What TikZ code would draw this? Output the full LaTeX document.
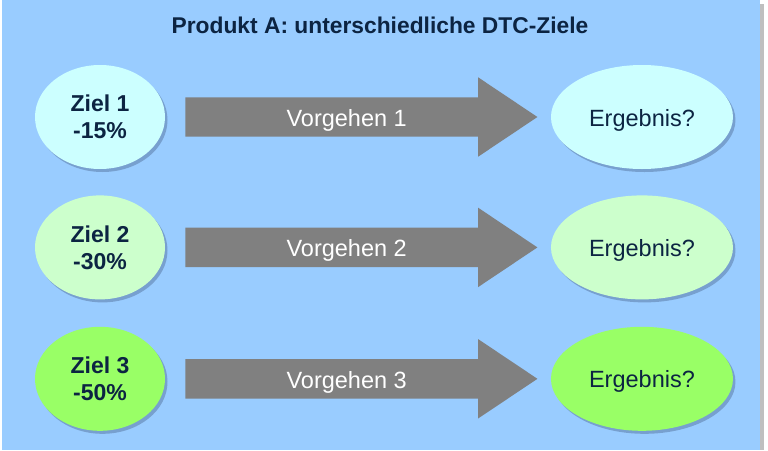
\documentclass[tikz,border=0pt]{standalone}
\usepackage{fontspec}
\setmainfont{Liberation Sans}
\usetikzlibrary{shapes.geometric, shapes.arrows, shadows, positioning}

\definecolor{bgblue}{RGB}{153,204,255}
\definecolor{navy}{RGB}{12,36,66}
\definecolor{zielcyan}{RGB}{204,255,255}
\definecolor{zielmint}{RGB}{204,255,204}
\definecolor{zielgreen}{RGB}{153,255,102}
\definecolor{pfeilgray}{RGB}{128,128,128}
\definecolor{shadowblue}{RGB}{70,95,135}

\begin{document}
\begin{tikzpicture}[
    x=1pt, y=-1pt,
    every node/.style={font=\fontsize{23.5}{27}\selectfont, text=navy},
    ziel/.style={ellipse, minimum width=130pt, minimum height=104pt,
                 inner sep=0pt, align=center, font=\fontsize{23}{27}\selectfont\bfseries,
                 drop shadow={shadow xshift=2.5pt, shadow yshift=-3pt,
                              fill=shadowblue, opacity=0.4}},
    ergebnis/.style={ellipse, minimum width=182pt, minimum height=104pt,
                 inner sep=0pt, text height=18pt, text depth=0pt,
                 drop shadow={shadow xshift=2.5pt, shadow yshift=-3pt,
                              fill=shadowblue, opacity=0.4}},
    pfeil/.style={single arrow, fill=pfeilgray, text=white,
                  minimum height=352pt, text height=19pt, text depth=0pt,
                  inner ysep=10pt, inner xsep=0pt,
                  single arrow head extend=20pt, single arrow tip angle=67.6},
]
    % page with shadow at the right edge
    \useasboundingbox (0,0) rectangle (768,450);
    \fill[white] (0,0) rectangle (768,450);
    \fill[black!25] (760,4) rectangle (764,450);
    \fill[bgblue] (2,0) rectangle (760,450);

    \node[font=\fontsize{22.8}{26}\selectfont\bfseries] (titel) at (380,25)
        {Produkt A: unterschiedliche DTC-Ziele};

    \node[ziel, fill=zielcyan]  (ziel1) at (100,117) {Ziel 1\\-15\%};
    \node[ziel, fill=zielmint, below=26pt of ziel1]  (ziel2) {Ziel 2\\-30\%};
    \node[ziel, fill=zielgreen, below=27pt of ziel2] (ziel3) {Ziel 3\\-50\%};

    \node[pfeil, right=20pt of ziel1] (vor1) {Vorgehen 1};
    \node[pfeil, right=20pt of ziel2] (vor2) {Vorgehen 2};
    \node[pfeil, right=20pt of ziel3] (vor3) {Vorgehen 3};

    \node[ergebnis, fill=zielcyan,  right=13pt of vor1] (erg1) {Ergebnis?};
    \node[ergebnis, fill=zielmint,  right=13pt of vor2] (erg2) {Ergebnis?};
    \node[ergebnis, fill=zielgreen, right=13pt of vor3] (erg3) {Ergebnis?};
\end{tikzpicture}
\end{document}
